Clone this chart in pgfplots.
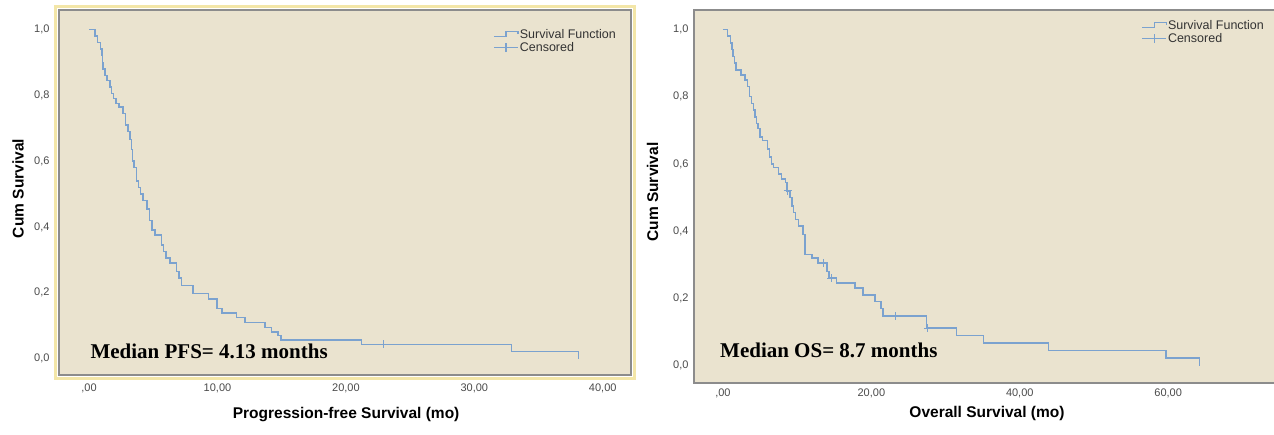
\documentclass[border=0pt]{standalone}
\usepackage{pgfplots}
\pgfplotsset{compat=1.18}
\usepackage{fontspec}
\setmainfont{Liberation Sans}
\newfontfamily\medianfont{Liberation Serif}
\definecolor{panelbg}{HTML}{EAE3CF}
\definecolor{framegray}{HTML}{8C8C8C}
\definecolor{hiyellow}{HTML}{F3E6A8}
\definecolor{kmblue}{HTML}{7BA2CF}
\definecolor{tickgray}{HTML}{4A4A4A}
\definecolor{legendgray}{HTML}{333333}

% PFS: event times (mo) and survival after each step
\pgfplotstableread{
t S
0 1.0
0.45 0.98
0.65 0.96
0.9 0.94
1.0 0.92
1.05 0.90
1.1 0.88
1.25 0.86
1.4 0.845
1.65 0.825
1.75 0.805
1.9 0.79
2.1 0.775
2.35 0.765
2.65 0.745
2.85 0.71
3.05 0.69
3.2 0.665
3.3 0.635
3.4 0.60
3.5 0.58
3.7 0.54
3.85 0.52
4.0 0.50
4.2 0.48
4.5 0.455
4.7 0.42
4.9 0.39
5.15 0.375
5.65 0.345
5.8 0.325
6.0 0.305
6.3 0.29
6.8 0.265
7.0 0.245
7.2 0.222
8.1 0.197
9.3 0.181
9.95 0.152
10.35 0.139
11.5 0.125
12.15 0.11
13.7 0.095
14.2 0.08
14.7 0.07
14.95 0.057
21.2 0.043
32.9 0.022
38.1 0.0
}\pfsdata

\pgfplotstableread{
t S
22.9 0.043
}\pfscens

% OS
\pgfplotstableread{
t S
0 1.0
0.6 0.98
1.0 0.96
1.2 0.94
1.35 0.92
1.55 0.90
1.75 0.88
2.4 0.865
3.0 0.85
3.3 0.83
3.6 0.80
3.85 0.78
4.1 0.76
4.3 0.74
4.55 0.72
4.75 0.705
5.0 0.68
5.35 0.67
6.0 0.645
6.3 0.62
6.55 0.60
6.8 0.59
7.5 0.57
7.9 0.555
8.4 0.545
8.6 0.52
9.05 0.50
9.3 0.475
9.5 0.455
9.8 0.435
10.15 0.415
10.8 0.39
11.05 0.33
12.0 0.32
12.8 0.305
14.0 0.28
14.3 0.26
15.3 0.245
17.8 0.23
18.9 0.21
20.5 0.19
21.3 0.17
21.6 0.147
27.45 0.111
31.5 0.089
35.1 0.067
43.9 0.045
59.7 0.023
64.2 0.0
}\osdata

\pgfplotstableread{
t S
8.7 0.52
13.6 0.305
14.6 0.26
23.2 0.147
27.6 0.111
}\oscens

\pgfplotsset{
  km/.style={
    scale only axis,
    axis background/.style={fill=panelbg},
    axis line style={draw=framegray, line width=1.8pt},
    major tick length=0pt,
    tick style={draw=none},
    ymin=-0.05, ymax=1.059,
    ytick={0,0.2,0.4,0.6,0.8,1},
    yticklabels={{0,0},{0,2},{0,4},{0,6},{0,8},{1,0}},
    ticklabel style={font=\fontsize{11}{13}\selectfont, text=tickgray},
    xticklabel style={anchor=center},
    label style={font=\bfseries\fontsize{15.5}{18}\selectfont, text=black},
    ylabel={Cum Survival},
    legend style={draw=none, fill=none, font=\fontsize{12.5}{14}\selectfont,
      text=legendgray, nodes={inner sep=1.2pt}, anchor=north east},
    legend cell align=left,
  },
  kmline/.style={const plot, kmblue, line width=1.5pt,
    legend image code/.code={\draw[kmblue, line width=1.2pt]
      (0pt,-2pt) -- (12pt,-2pt) -- (12pt,3pt) -- (24pt,3pt) -- (24pt,0.5pt);}},
  kmcens/.style={only marks, mark=+, mark size=4pt, kmblue,
    mark options={line width=1.2pt},
    legend image code/.code={\draw[kmblue, line width=1.2pt] (0pt,0pt) -- (24pt,0pt);
      \draw[kmblue, line width=1.2pt] (12pt,-4.5pt) -- (12pt,4.5pt);}},
}

\begin{document}
\begin{tikzpicture}
\useasboundingbox (0,0) rectangle (1274pt,434pt);

\begin{axis}[km, name=pfs,
  at={(59pt,59pt)}, anchor=south west,
  width=572pt, height=365pt,
  xmin=-2.34, xmax=42.2,
  xtick={0,10,20,30,40},
  xticklabels={{,00},{10,00},{20,00},{30,00},{40,00}},
  xticklabel style={yshift=-13pt},
  yticklabel style={xshift=-6pt},
  xlabel={Progression-free Survival (mo)},
  xlabel style={at={(axis description cs:0.502,-0.107)}, anchor=center},
  ylabel style={at={(axis description cs:-0.0717,0.511)}, anchor=center, rotate=0},
  legend style={at={(0.981,0.956)}},
]
\addplot[kmline] table[x=t, y=S] {\pfsdata};
\addlegendentry{Survival Function}
\addplot[kmcens] table[x=t, y=S] {\pfscens};
\addlegendentry{Censored}
\node[anchor=west, inner sep=0pt, font=\medianfont\bfseries\fontsize{21}{23}\selectfont]
  at (axis cs:0.1,0.021) {Median PFS= 4.13 months};
\end{axis}
\draw[hiyellow, line width=2.5pt]
  ([shift={(-3.5pt,-3.5pt)}]pfs.south west) rectangle ([shift={(3.5pt,3.5pt)}]pfs.north east);

\begin{axis}[km, name=os,
  at={(694pt,51pt)}, anchor=south west,
  width=586pt, height=373pt,
  xmin=-3.9, xmax=75.07,
  ymin=-0.052, ymax=1.058,
  xtick={0,20,40,60},
  xticklabels={{,00},{20,00},{40,00},{60,00}},
  xticklabel style={yshift=-10pt},
  yticklabel style={xshift=-2pt},
  xlabel={Overall Survival (mo)},
  xlabel style={at={(axis description cs:0.5,-0.083)}, anchor=center},
  ylabel style={at={(axis description cs:-0.0705,0.512)}, anchor=center, rotate=0},
  legend style={at={(0.98,0.981)}},
]
\addplot[kmline] table[x=t, y=S] {\osdata};
\addlegendentry{Survival Function}
\addplot[kmcens] table[x=t, y=S] {\oscens};
\addlegendentry{Censored}
\node[anchor=west, inner sep=0pt, font=\medianfont\bfseries\fontsize{21}{23}\selectfont]
  at (axis cs:-0.4,0.046) {Median OS= 8.7 months};
\end{axis}
\end{tikzpicture}
\end{document}
